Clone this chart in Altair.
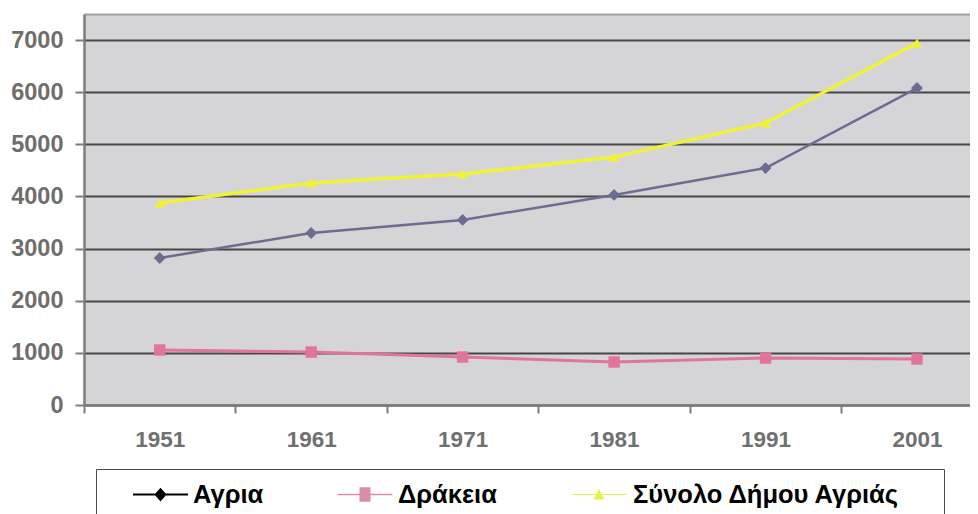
import altair as alt
import pandas as pd

years = [1951, 1961, 1971, 1981, 1991, 2001]
agria = [2820, 3300, 3550, 4030, 4545, 6080]
drakeia = [1055, 1015, 920, 825, 900, 882]
total = [3875, 4260, 4430, 4755, 5410, 6945]
series = ["Αγρια", "Δράκεια", "Σύνολο Δήμου Αγριάς"]
colors = ["#6c6c92", "#e0749e", "#f2f234"]
markers = ["diamond", "square", "triangle-up"]
marker_sizes = [140, 130, 110]
line_widths = [2.5, 3.5, 1.8]
legend_fill = ["#000000", "#dc8cab", "#e8f04c"]
y_ticks = [0, 1000, 2000, 3000, 4000, 5000, 6000, 7000, 7500]

rows = []
for name, vals in zip(series, [agria, drakeia, total]):
    for yr, v in zip(years, vals):
        rows.append({"year": yr, "value": v, "series": name})
df = pd.DataFrame(rows)

x_ticks = []
for yr in years:
    x_ticks += [yr - 5, yr]

FONT = "Liberation Sans"

x = alt.X(
    "year:Q",
    scale=alt.Scale(domain=[1946, 2004.5], nice=False, zero=False),
    axis=alt.Axis(
        values=x_ticks,
        labelExpr="datum.value % 10 == 1 ? '' + datum.value : ''",
        tickOpacity={"condition": {"test": "datum.value % 10 == 1", "value": 0}, "value": 1},
        grid=False, title=None, labelOverlap=False, labelFlush=False,
        domainColor="#7c7c7c", domainWidth=2.5, tickColor="#7c7c7c", tickWidth=2, tickSize=8,
        labelFont=FONT, labelFontSize=22.5, labelFontWeight="bold", labelColor="#707070", labelPadding=15,
    ),
)
y = alt.Y(
    "value:Q",
    scale=alt.Scale(domain=[0, 7500], nice=False),
    axis=alt.Axis(
        values=y_ticks, format="d", grid=True, gridWidth=2, title=None,
        gridColor={"condition": {"test": "datum.value == 7500", "value": "#a0a0a0"}, "value": "#474747"},
        tickOpacity={"condition": {"test": "datum.value == 7500", "value": 0}, "value": 1},
        labelExpr="datum.value == 7500 ? '' : datum.label",
        domainColor="#7c7c7c", domainWidth=2.5, tickColor="#7c7c7c", tickWidth=2, tickSize=9,
        labelFont=FONT, labelFontSize=23.5, labelFontWeight="bold", labelColor="#6e6e6e", labelPadding=12,
    ),
)

# legend symbols: a thin bar with a centred marker, in the unit square [-1, 1]
sym_paths = [
    "M-1,-0.036L1,-0.036L1,0.036L-1,0.036Z M0,-0.25L0.22,0L0,0.25L-0.22,0Z",
    "M-1,-0.03L1,-0.03L1,0.03L-1,0.03Z M-0.2,-0.26L0.2,-0.26L0.2,0.26L-0.2,0.26Z",
    "M-1,-0.02L1,-0.02L1,0.02L-1,0.02Z M-0.2,0.18L0,-0.2L0.2,0.18Z",
]
legend_x = [49, 253.5, 487.5]
label_offsets = [5, 5.5, 6.5]

color = alt.Color("series:N", scale=alt.Scale(domain=series, range=colors), legend=None)

base = alt.Chart(df)
lines = base.mark_line().encode(
    x=x, y=y, color=color,
    strokeWidth=alt.StrokeWidth("series:N", scale=alt.Scale(domain=series, range=line_widths), legend=None),
)
layers = [lines]
for name, mk, sz in zip(series, markers, marker_sizes):
    layers.append(
        base.transform_filter(alt.datum.series == name)
        .mark_point(filled=True, opacity=1, shape=mk, size=sz)
        .encode(x=x, y=y, color=color)
    )

# one legend entry per series, each with its own line+marker symbol
for i, name in enumerate(series):
    lg = alt.Legend(
        title=None, orient="none", legendX=legend_x[i], legendY=453,
        symbolSize=3025, labelOffset=label_offsets[i], padding=0,
        symbolStrokeWidth=0, symbolOpacity=1, symbolFillColor=legend_fill[i],
        labelFont=FONT, labelFontSize=25.5, labelFontWeight="bold", labelColor="#000000", labelLimit=500,
    )
    layers.append(
        base.transform_filter(alt.datum.series == name)
        .mark_point(filled=True, opacity=0, fill=legend_fill[i], strokeWidth=0)
        .encode(
            x=x, y=y,
            shape=alt.Shape("series:N", scale=alt.Scale(domain=[name], range=[sym_paths[i]]), legend=lg),
        )
    )

# frame around the legend entries
frame = alt.Legend(
    title=None, orient="none", legendX=12, legendY=455, padding=421,
    symbolSize=16, symbolOpacity=0, labelOpacity=0, labelFontSize=1, labelOffset=0,
    labelExpr="''", strokeColor="#4a4a4a",
)
layers.append(
    base.transform_filter(alt.datum.series == series[0])
    .mark_point(opacity=0)
    .encode(
        x=x, y=y,
        shape=alt.Shape("series:N", scale=alt.Scale(domain=[series[0]], range=["circle"]), legend=frame),
    )
)

chart = alt.layer(*layers).resolve_scale(shape="independent").properties(
    width=886, height=391, autosize="none",
    padding={"left": 76, "top": 6, "right": 0, "bottom": 109},
    background="#ffffff",
).configure_view(fill="#d5d5d8", stroke=None).configure_legend(
    labelFont=FONT, labelFontWeight="bold"
)

chart.save("out.html", embed_options={"renderer": "svg", "actions": False})
